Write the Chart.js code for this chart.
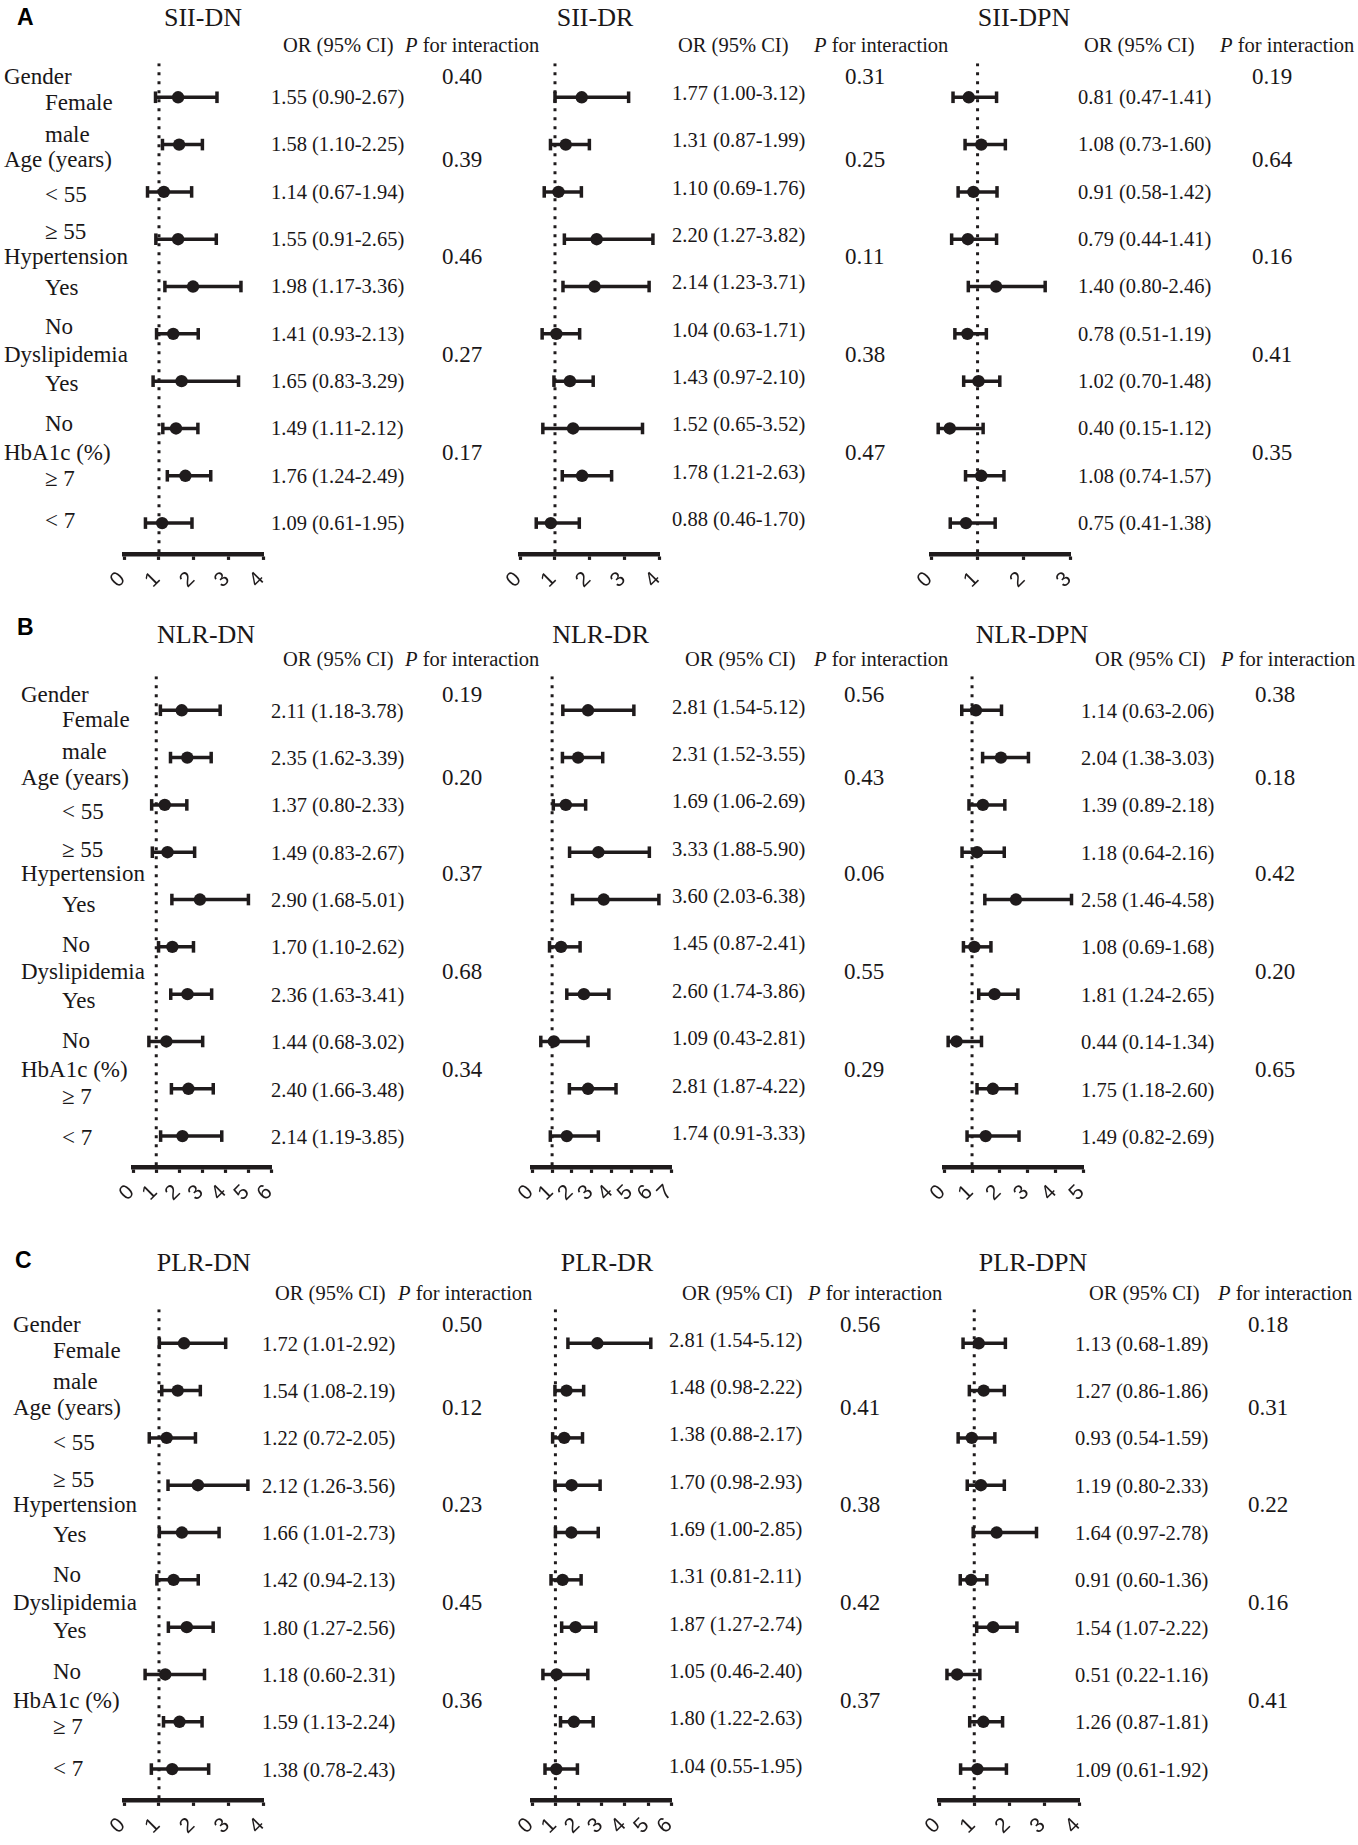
<!DOCTYPE html>
<html><head><meta charset="utf-8">
<script src="https://cdn.jsdelivr.net/npm/chart.js@4.4.1/dist/chart.umd.min.js"></script>
<style>
html,body{margin:0;padding:0;background:#fff;}
#page{position:relative;width:1358px;height:1845px;overflow:hidden;background:#fff;}
.t{position:absolute;white-space:nowrap;line-height:1;transform:translateY(-50%);font-family:"Liberation Serif","Times New Roman",serif;color:#1a1718;}
.cw{position:absolute;}
.cw canvas{display:block;}
</style></head><body><div id="page"></div>
<script>
// ---------------- DATA ----------------
const panelLetters = ['A', 'B', 'C'];
const chartTitles = [['SII-DN', 'SII-DR', 'SII-DPN'], ['NLR-DN', 'NLR-DR', 'NLR-DPN'], ['PLR-DN', 'PLR-DR', 'PLR-DPN']];
const groupLabels = ['Gender', 'Age (years)', 'Hypertension', 'Dyslipidemia', 'HbA1c (%)'];
const rowLabels = ['Female', 'male', '< 55', '\u2265 55', 'Yes', 'No', 'Yes', 'No', '\u2265 7', '< 7'];
const axisMax = [[4, 4, 3], [6, 7, 5], [4, 6, 4]];
const tickValues = [0, 1, 2, 3, 4, 5, 6, 7];

const siiDnOR = [1.55, 1.58, 1.14, 1.55, 1.98, 1.41, 1.65, 1.49, 1.76, 1.09];
const siiDnLo = [0.90, 1.10, 0.67, 0.91, 1.17, 0.93, 0.83, 1.11, 1.24, 0.61];
const siiDnHi = [2.67, 2.25, 1.94, 2.65, 3.36, 2.13, 3.29, 2.12, 2.49, 1.95];
const siiDnP = ['0.40', '0.39', '0.46', '0.27', '0.17'];

const siiDrOR = [1.77, 1.31, 1.10, 2.20, 2.14, 1.04, 1.43, 1.52, 1.78, 0.88];
const siiDrLo = [1.00, 0.87, 0.69, 1.27, 1.23, 0.63, 0.97, 0.65, 1.21, 0.46];
const siiDrHi = [3.12, 1.99, 1.76, 3.82, 3.71, 1.71, 2.10, 3.52, 2.63, 1.70];
const siiDrP = ['0.31', '0.25', '0.11', '0.38', '0.47'];

const siiDpnOR = [0.81, 1.08, 0.91, 0.79, 1.40, 0.78, 1.02, 0.40, 1.08, 0.75];
const siiDpnLo = [0.47, 0.73, 0.58, 0.44, 0.80, 0.51, 0.70, 0.15, 0.74, 0.41];
const siiDpnHi = [1.41, 1.60, 1.42, 1.41, 2.46, 1.19, 1.48, 1.12, 1.57, 1.38];
const siiDpnP = ['0.19', '0.64', '0.16', '0.41', '0.35'];

const nlrDnOR = [2.11, 2.35, 1.37, 1.49, 2.90, 1.70, 2.36, 1.44, 2.40, 2.14];
const nlrDnLo = [1.18, 1.62, 0.80, 0.83, 1.68, 1.10, 1.63, 0.68, 1.66, 1.19];
const nlrDnHi = [3.78, 3.39, 2.33, 2.67, 5.01, 2.62, 3.41, 3.02, 3.48, 3.85];
const nlrDnP = ['0.19', '0.20', '0.37', '0.68', '0.34'];

const nlrDrOR = [2.81, 2.31, 1.69, 3.33, 3.60, 1.45, 2.60, 1.09, 2.81, 1.74];
const nlrDrLo = [1.54, 1.52, 1.06, 1.88, 2.03, 0.87, 1.74, 0.43, 1.87, 0.91];
const nlrDrHi = [5.12, 3.55, 2.69, 5.90, 6.38, 2.41, 3.86, 2.81, 4.22, 3.33];
const nlrDrP = ['0.56', '0.43', '0.06', '0.55', '0.29'];

const nlrDpnOR = [1.14, 2.04, 1.39, 1.18, 2.58, 1.08, 1.81, 0.44, 1.75, 1.49];
const nlrDpnLo = [0.63, 1.38, 0.89, 0.64, 1.46, 0.69, 1.24, 0.14, 1.18, 0.82];
const nlrDpnHi = [2.06, 3.03, 2.18, 2.16, 4.58, 1.68, 2.65, 1.34, 2.60, 2.69];
const nlrDpnP = ['0.38', '0.18', '0.42', '0.20', '0.65'];

const plrDnOR = [1.72, 1.54, 1.22, 2.12, 1.66, 1.42, 1.80, 1.18, 1.59, 1.38];
const plrDnLo = [1.01, 1.08, 0.72, 1.26, 1.01, 0.94, 1.27, 0.60, 1.13, 0.78];
const plrDnHi = [2.92, 2.19, 2.05, 3.56, 2.73, 2.13, 2.56, 2.31, 2.24, 2.43];
const plrDnP = ['0.50', '0.12', '0.23', '0.45', '0.36'];

const plrDrOR = [2.81, 1.48, 1.38, 1.70, 1.69, 1.31, 1.87, 1.05, 1.80, 1.04];
const plrDrLo = [1.54, 0.98, 0.88, 0.98, 1.00, 0.81, 1.27, 0.46, 1.22, 0.55];
const plrDrHi = [5.12, 2.22, 2.17, 2.93, 2.85, 2.11, 2.74, 2.40, 2.63, 1.95];
const plrDrP = ['0.56', '0.41', '0.38', '0.42', '0.37'];

const plrDpnOR = [1.13, 1.27, 0.93, 1.19, 1.64, 0.91, 1.54, 0.51, 1.26, 1.09];
const plrDpnLo = [0.68, 0.86, 0.54, 0.80, 0.97, 0.60, 1.07, 0.22, 0.87, 0.61];
const plrDpnHi = [1.89, 1.86, 1.59, 2.33, 2.78, 1.36, 2.22, 1.16, 1.81, 1.92];
const plrDpnHiDrawn = [1.89, 1.86, 1.59, 1.86, 2.78, 1.36, 2.22, 1.16, 1.81, 1.92];
const plrDpnP = ['0.18', '0.31', '0.22', '0.16', '0.41'];

const panels = [
  [{or: siiDnOR, lo: siiDnLo, hi: siiDnHi, p: siiDnP},
   {or: siiDrOR, lo: siiDrLo, hi: siiDrHi, p: siiDrP},
   {or: siiDpnOR, lo: siiDpnLo, hi: siiDpnHi, p: siiDpnP}],
  [{or: nlrDnOR, lo: nlrDnLo, hi: nlrDnHi, p: nlrDnP},
   {or: nlrDrOR, lo: nlrDrLo, hi: nlrDrHi, p: nlrDrP},
   {or: nlrDpnOR, lo: nlrDpnLo, hi: nlrDpnHi, p: nlrDpnP}],
  [{or: plrDnOR, lo: plrDnLo, hi: plrDnHi, p: plrDnP},
   {or: plrDrOR, lo: plrDrLo, hi: plrDrHi, p: plrDrP},
   {or: plrDpnOR, lo: plrDpnLo, hi: plrDpnHi, hiDrawn: plrDpnHiDrawn, p: plrDpnP}]
];

// ---------------- LAYOUT ----------------
const INK = '#1f1b1c';
const rowStep = 47.35;
const groupOff = [-20.5, 62.5, 158.9, 257, 355];
const subOff = [5.2, 36.8, 96.9, 134.4, 189.8, 229.3, 285.8, 326.1, 381.5, 423];
const layout = [
  {base: 96.8, labShift: 0, letterX: 17, letterY: 17, titleY: 18, headerY: 44.5, groupX: 4, subX: 45,
   plots: [[124.5, 263], [520.4, 659], [931, 1070]], titleX: [203, 595, 1024],
   orX: [271, 672, 1078], pX: [442, 845, 1252], hOrX: [283, 678, 1084], hPX: [405, 814, 1220]},
  {base: 710.7, labShift: 3.5, letterX: 17, letterY: 627, titleY: 635, headerY: 658.5, groupX: 21, subX: 62,
   plots: [[133.6, 272], [532.5, 671], [944.5, 1083]], titleX: [206, 600.6, 1032],
   orX: [271, 672, 1081], pX: [442, 844, 1255], hOrX: [283, 685, 1095], hPX: [405, 814, 1221]},
  {base: 1343.6, labShift: 1, letterX: 15, letterY: 1260, titleY: 1262.5, headerY: 1293, groupX: 13, subX: 53,
   plots: [[124.5, 263], [532.5, 671], [939, 1079]], titleX: [203.8, 607, 1033],
   orX: [262, 669, 1075], pX: [442, 840, 1248], hOrX: [275, 682, 1089], hPX: [398, 808, 1218]}
];

const page = document.getElementById('page');
function txt(html, x, y, size, extra) {
  const d = document.createElement('div');
  d.className = 't';
  d.innerHTML = html;
  d.style.left = x + 'px';
  d.style.top = y + 'px';
  d.style.fontSize = size + 'px';
  if (extra) Object.assign(d.style, extra);
  page.appendChild(d);
  return d;
}
const f2 = v => v.toFixed(2);

function makePlot(L, col, d, maxV) {
  const x0 = L.plots[col][0], x1 = L.plots[col][1];
  const top = L.base - 34, bottom = L.base + 457;
  const yMin = -34 / rowStep, yMax = 457 / rowStep;
  const wrap = document.createElement('div');
  wrap.className = 'cw';
  const cv = document.createElement('canvas');
  cv.width = Math.round(x1 - x0 + 60);
  cv.height = Math.round(bottom - top + 60);
  wrap.appendChild(cv);
  page.appendChild(wrap);
  const hiD = d.hiDrawn || d.hi;
  const datasets = [];
  datasets.push({type: 'scatter', data: d.or.map((v, i) => ({x: v, y: i})), pointStyle: 'circle',
    pointRadius: 6.2, backgroundColor: INK, borderColor: INK, borderWidth: 0, order: 0, clip: false});
  d.lo.forEach((lo, i) => {
    datasets.push({type: 'line', data: [{x: lo, y: i}, {x: hiD[i], y: i}], borderColor: INK, borderWidth: 3.5,
      pointStyle: 'line', rotation: 90, pointRadius: 5.8, pointBorderWidth: 3.5, pointBorderColor: INK,
      pointBackgroundColor: INK, order: 1, clip: false});
  });
  datasets.push({type: 'line', data: [{x: 1, y: yMin}, {x: 1, y: yMax}], borderColor: INK, borderWidth: 3,
    borderDash: [3, 6], pointRadius: 0, order: 2});
  const chart = new Chart(cv, {
    type: 'scatter',
    data: {datasets},
    options: {
      responsive: false, maintainAspectRatio: false, animation: false, events: [],
      layout: {padding: 0},
      plugins: {legend: {display: false}, tooltip: {enabled: false}},
      scales: {
        x: {type: 'linear', min: 0, max: maxV, position: 'bottom',
          afterBuildTicks: s => { s.ticks = tickValues.filter(v => v <= maxV).map(v => ({value: v})); },
          ticks: {autoSkip: false, minRotation: 45, maxRotation: 45, padding: 7, labelOffset: -2,
            font: {family: '"Liberation Sans", Arial, sans-serif', size: 21}, color: INK},
          grid: {display: true, drawOnChartArea: false, drawTicks: true, tickLength: 6, tickWidth: 3.2, tickColor: INK, color: INK},
          border: {display: true, color: INK, width: 4.5}},
        y: {type: 'linear', min: yMin, max: yMax, reverse: true, display: false}
      }
    }
  });
  const ca = chart.chartArea;
  const dw = (x1 - x0) - (ca.right - ca.left);
  const dh = (bottom - top) - (ca.bottom - ca.top);
  chart.resize(Math.round(chart.width + dw), Math.round(chart.height + dh));
  const ca2 = chart.chartArea;
  wrap.style.left = (x0 - ca2.left) + 'px';
  wrap.style.top = (top - ca2.top) + 'px';
}

layout.forEach((L, pi) => {
  const sh = L.labShift;
  txt(panelLetters[pi], L.letterX, L.letterY, 23, {fontFamily: '"Liberation Sans", Arial, sans-serif', fontWeight: 'bold', color: '#000'});
  groupLabels.forEach((g, gi) => txt(g, L.groupX, L.base + groupOff[gi] + sh, 23));
  rowLabels.forEach((r, ri) => txt(r, L.subX, L.base + subOff[ri] + sh, 23));
  for (let c = 0; c < 3; c++) {
    const d = panels[pi][c];
    txt(chartTitles[pi][c], L.titleX[c], L.titleY, 26, {transform: 'translate(-50%,-50%)'});
    txt('OR (95% CI)', L.hOrX[c], L.headerY, 20.5);
    txt('<i>P</i> for interaction', L.hPX[c], L.headerY, 20.5);
    const dy = c === 1 ? -4 : 0;
    d.or.forEach((v, i) => txt(f2(v) + ' (' + f2(d.lo[i]) + '-' + f2(d.hi[i]) + ')', L.orX[c], L.base + i * rowStep + dy, 20.5));
    d.p.forEach((p, gi) => txt(p, L.pX[c], L.base + groupOff[gi] + sh, 23));
    makePlot(L, c, d, axisMax[pi][c]);
  }
});
</script></body></html>
